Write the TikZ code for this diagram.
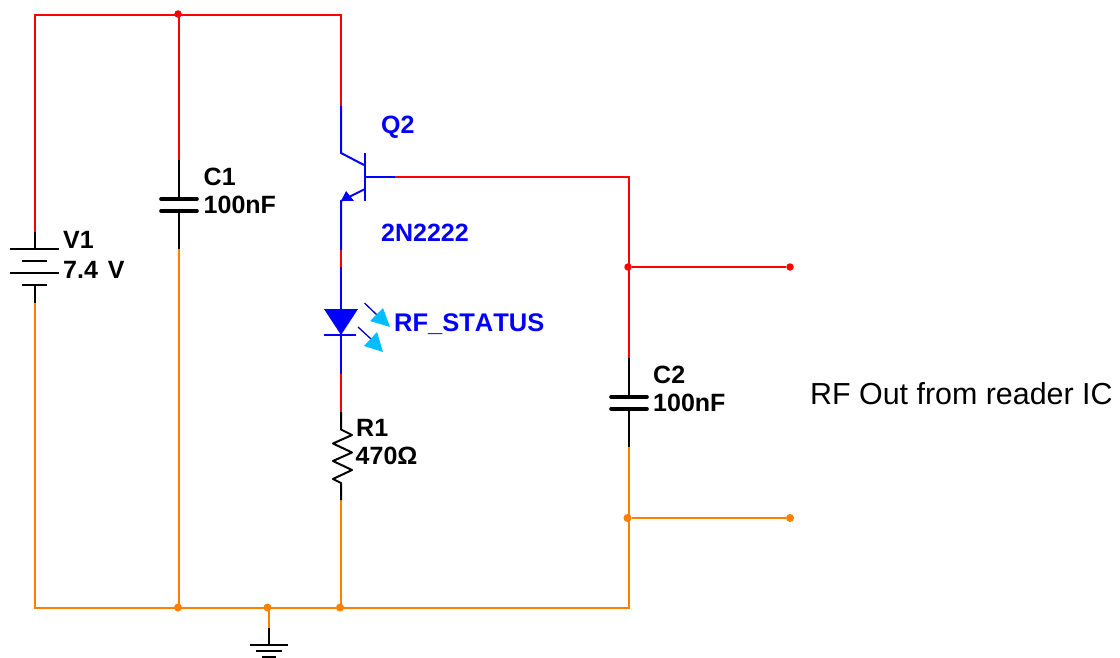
\documentclass[tikz,border=0pt]{standalone}
\usepackage{fontspec}
\setmainfont{Liberation Sans}
\newfontfamily\labfont[Kerning=Off]{Liberation Sans Bold}
\definecolor{wred}{RGB}{255,0,0}
\definecolor{worange}{RGB}{255,128,0}
\definecolor{wblue}{RGB}{0,0,255}
\definecolor{wcyan}{RGB}{0,190,255}
\tikzset{
  wire/.style={line width=2pt,line cap=butt,line join=miter},
  redw/.style={wire,draw=wred},
  orw/.style={wire,draw=worange},
  bluew/.style={wire,draw=wblue},
  blackw/.style={wire,draw=black},
  thinplate/.style={line width=1.4pt,draw=black},
  capplate/.style={line width=3.6pt,draw=black,line cap=round},
  dotr/.style={circle,fill=wred,inner sep=0pt,minimum size=7.5pt},
  doto/.style={circle,fill=worange,inner sep=0pt,minimum size=8pt},
  lab/.style={anchor=base west,inner sep=0pt,font=\labfont\fontsize{25}{25}\selectfont,text=black},
  blab/.style={lab,text=wblue},
}
\begin{document}
\begin{tikzpicture}[x=1pt,y=-1pt]
\useasboundingbox (0,0) rectangle (1120,658);
% junctions and ends
\node[dotr] (jtop) at (178,14) {};
\node[dotr] (jrf) at (628,267) {};
\node[dotr] (rfend) at (790,267) {};
\node[doto] (jo) at (627.5,518) {};
\node[doto] (oend) at (790,518) {};
\node[doto] (jb1) at (178,607.5) {};
\node[doto] (jb2) at (267.5,607.5) {};
\node[doto] (jb3) at (340,607.5) {};
% coordinates
\coordinate (tl) at (35,15);
\coordinate (tr) at (341,15);
\coordinate (bl) at (35,608);
\coordinate (br) at (629,608);
\coordinate (cbr) at (629,177);
\coordinate (v1a) at (35,232);
\coordinate (v1b) at (35,249);
\coordinate (v1c) at (35,285);
\coordinate (v1d) at (35,303);
\coordinate (c1a) at (179,160);
\coordinate (c1b) at (179,199);
\coordinate (c1c) at (179,211);
\coordinate (c1d) at (179,249);
\coordinate (c1bot) at (179,608);
\coordinate (c1top) at (179,15);
\coordinate (c2a) at (629,358);
\coordinate (c2b) at (629,397);
\coordinate (c2c) at (629,409);
\coordinate (c2d) at (629,447);
\coordinate (qa) at (341,106);
\coordinate (qb) at (341,153);
\coordinate (qc) at (364,165);
\coordinate (qbase) at (365,177);
\coordinate (qbw) at (395,177);
\coordinate (qe) at (365,189);
\coordinate (qf) at (341,201);
\coordinate (la) at (341,267);
\coordinate (lb) at (341,309);
\coordinate (lc) at (341,335);
\coordinate (ld) at (341,374);
\coordinate (ra) at (341,412);
\coordinate (rb) at (341,429.5);
\coordinate (rc) at (341,483);
\coordinate (rd) at (341,500);
\coordinate (rbot) at (341,608);
\coordinate (qg) at (341,250);
\coordinate (ga) at (269,608);
\coordinate (gb) at (269,628);
\coordinate (gc) at (269,645);
% red wires
\draw[redw] (v1a) -- (tl) -- (tr) -- (qa);
\draw[redw] (c1top) -- (c1a);
\draw[redw] (qbw) -- (cbr) -- (c2a);
\draw[redw] (jrf) -- (rfend);
\draw[redw] (qg) -- (la);
\draw[redw] (ld) -- (ra);
% orange wires
\draw[orw] (v1d) -- (bl) -- (br) -- (c2d);
\draw[orw] (c1d) -- (c1bot);
\draw[orw] (rd) -- (rbot);
\draw[orw] (jo) -- (oend);
\draw[orw] (ga) -- (gb);
% battery
\draw[blackw] (v1a) -- (v1b);
\draw[blackw] (v1c) -- (v1d);
\draw[thinplate] (10,249) -- (59,249) (22,261) -- (47,261) (10,273) -- (59,273) (22,285) -- (47,285);
% capacitors
\draw[blackw] (c1a) -- (c1b);
\draw[blackw] (c1c) -- (c1d);
\draw[capplate] (161,199) -- (197,199) (161,211) -- (197,211);
\draw[blackw] (c2a) -- (c2b);
\draw[blackw] (c2c) -- (c2d);
\draw[capplate] (611,397) -- (647,397) (611,409) -- (647,409);
% transistor
\draw[bluew] (qa) -- (qb) -- (qc);
\draw[bluew] (365,153) -- (365,201);
\draw[line width=1.5pt,wblue] (qbase) -- (qbw);
\draw[bluew] (qe) -- (qf) -- (qg);
\fill[wblue] (341,201) -- (346,191) -- (354,201) -- cycle;
% LED
\draw[bluew] (la) -- (lb);
\draw[bluew] (lc) -- (ld);
\fill[wblue] (324,309) -- (358,309) -- (341,335) -- cycle;
\draw[line width=1.5pt,wblue] (324,335) -- (356,335);
\draw[line width=1.3pt,draw=wblue!80!black] (364.5,303) -- (378,316);
\fill[wcyan] (390,327) -- (370,321) -- (383,308) -- cycle;
\draw[line width=1.3pt,draw=wblue!80!black] (358,327) -- (371,339);
\fill[wcyan] (383,352) -- (364,346) -- (377,332) -- cycle;
% resistor
\draw[blackw,line join=round] (ra) -- (rb) -- (352,435) -- (333,443.5) -- (352,452.5) -- (333,461) -- (352,470) -- (333,479) -- (rc) -- (rd);
% ground
\draw[blackw] (gb) -- (gc);
\draw[thinplate] (250,645) -- (288,645) (256,651) -- (282,651) (262,657) -- (276,657);
% labels
\node[lab] (v1l) at (63,248.5) {V1};
\node[lab] (v1v) at (63,278.5) {7.4\hspace{3pt} V};
\node[lab] (c1l) at (203.5,185.5) {C1};
\node[lab] (c1v) at (203.5,214) {100nF};
\node[lab] (c2l) at (653,383.5) {C2};
\node[lab] (c2v) at (653,411) {100nF};
\node[lab] (r1l) at (356,436.5) {R1};
\node[lab] (r1v) at (355.5,464.5) {470Ω};
\node[blab] (ql) at (381,134) {Q2};
\node[blab] (qv) at (381,241.5) {2N2222};
\node[blab,font=\labfont\fontsize{25.5}{25.5}\selectfont] (led) at (394,331) {RF\_STATUS};
\node[anchor=base west,inner sep=0pt,font=\fontsize{30.4}{30.4}\selectfont,text=black] (rftext) at (810,404) {RF Out from reader IC};
\end{tikzpicture}
\end{document}
